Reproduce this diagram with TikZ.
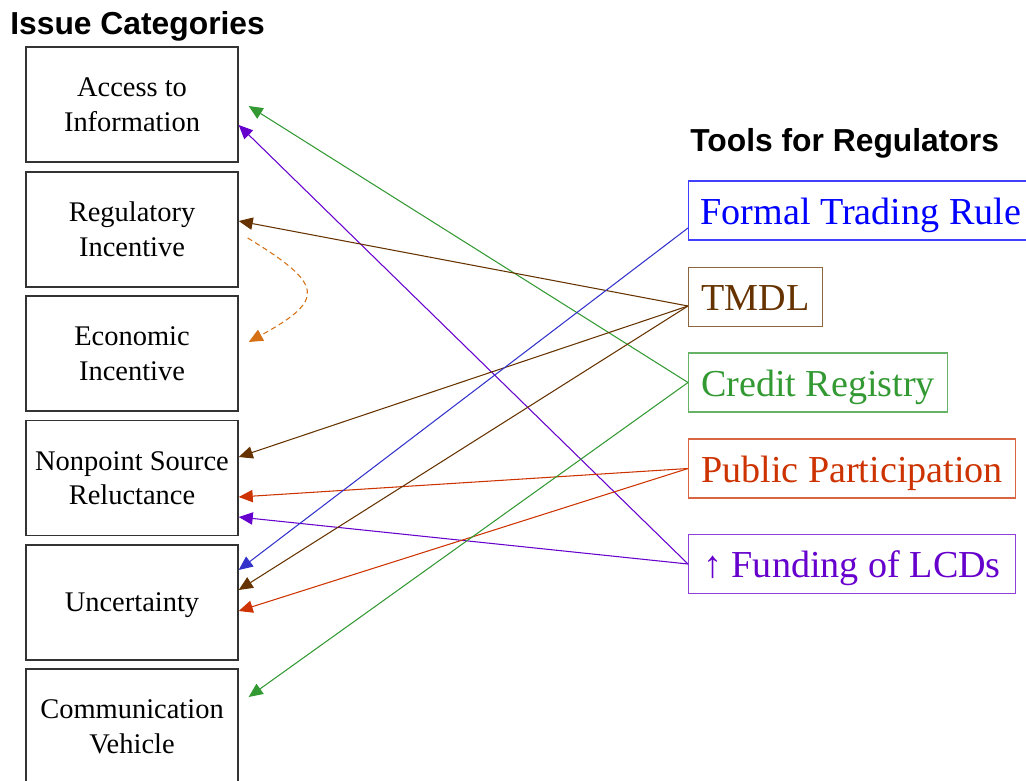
\documentclass[tikz,border=0pt]{standalone}
\usepackage{fontspec}
\setmainfont{Liberation Serif}
\setsansfont{Liberation Sans}
\usetikzlibrary{arrows.meta}

\definecolor{toolblue}{RGB}{0,0,255}
\definecolor{lineblue}{RGB}{51,51,204}
\definecolor{toolbrown}{RGB}{102,51,0}
\definecolor{toolgreen}{RGB}{51,153,51}
\definecolor{toolred}{RGB}{204,51,0}
\definecolor{toolpurple}{RGB}{102,0,204}
\definecolor{looporange}{RGB}{214,112,20}

\tikzset{
  issue/.style={draw=black!80, line width=0.8pt, minimum width=4.24cm, minimum height=2.3cm,
    align=center, text depth=0pt, font=\fontsize{16.2}{19.8}\selectfont},
  tool/.style={draw=#1!75, text=#1, line width=0.6pt, anchor=west, minimum height=1.18cm,
    inner xsep=0.24cm, text height=15.5pt, text depth=0pt, font=\fontsize{21.7}{26}\selectfont},
  link/.style={draw=#1, line width=0.6pt, -{Triangle[length=8pt,width=7pt]}},
  heading/.style={anchor=base west, inner sep=0pt, font=\fontsize{18.1}{22}\selectfont\sffamily\bfseries}
}

\begin{document}
\begin{tikzpicture}[x=0.02cm, y=-0.02cm]
		\useasboundingbox (0,0) rectangle (1026,780);

		\node[heading] (issuehead) at (10,35) {Issue Categories};
		\node[heading] (toolhead) at (690,152) {Tools for Regulators};

		\node[issue] (access) at (132,104.5) {Access to\\Information};
		\node[issue] (regulatory) at (132,229.5) {Regulatory\\Incentive};
		\node[issue] (economic) at (132,353.5) {Economic\\Incentive};
		\node[issue] (nonpoint) at (132,478) {Nonpoint Source\\Reluctance};
		\node[issue] (uncertainty) at (132,602.5) {Uncertainty};
		\node[issue] (communication) at (132,726.5) {Communication\\Vehicle};

		\node[tool=toolblue] (formal) at (688,210.5) {Formal Trading Rule\hspace*{0.5cm}};
		\node[tool=toolbrown, minimum width=2.68cm] (tmdl) at (688,297) {TMDL};
		\node[tool=toolgreen, minimum width=5.18cm] (registry) at (688,382.5) {Credit Registry};
		\node[tool=toolred, minimum width=6.54cm] (participation) at (688,468.5) {Public Participation};
		\node[tool=toolpurple, minimum width=6.54cm] (funding) at (688,564) {↑ Funding of LCDs};

		\draw[link=toolgreen] (registry.west) -- ([shift={(10,1.5)}]access.east);
		\draw[link=toolpurple] (funding.west) -- ([shift={(0,20.5)}]access.east);
		\draw[link=toolbrown] ([shift={(0,9)}]tmdl.west) -- ([shift={(0,-8.5)}]regulatory.east);
		\draw[link=looporange, dash pattern=on 3pt off 2pt] ([shift={(9,8.5)}]regulatory.east)
			.. controls (325,285) and (325,300) .. ([shift={(10,-11.5)}]economic.east);

		\draw[link=toolbrown] ([shift={(0,9)}]tmdl.west) -- ([shift={(0,-21)}]nonpoint.east);
		\draw[link=toolred] (participation.west) -- ([shift={(0,19)}]nonpoint.east);
		\draw[link=toolpurple] (funding.west) -- ([shift={(0,39)}]nonpoint.east);

		\draw[link=lineblue] ([shift={(0,17.5)}]formal.west) -- ([shift={(0,-32.5)}]uncertainty.east);
		\draw[link=toolbrown] ([shift={(0,9)}]tmdl.west) -- ([shift={(0,-12.5)}]uncertainty.east);
		\draw[link=toolred] (participation.west) -- ([shift={(0,8.5)}]uncertainty.east);
		\draw[link=toolgreen] (registry.west) -- ([shift={(10,-29.5)}]communication.east);
		\end{tikzpicture}
\end{document}
